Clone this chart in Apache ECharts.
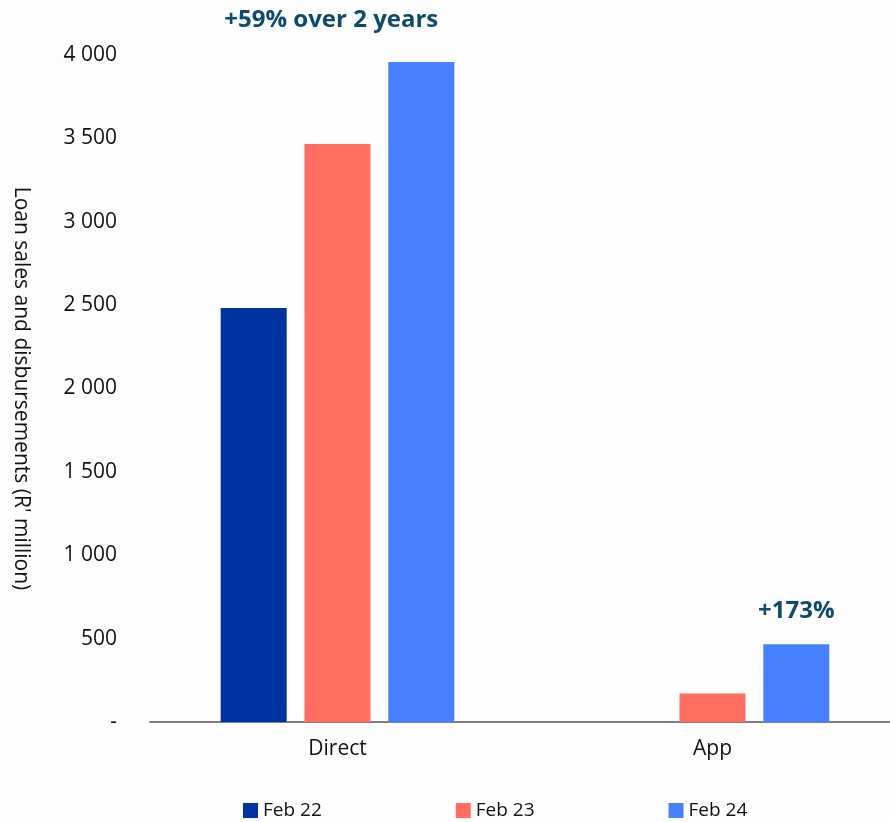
<!DOCTYPE html>
<html>
<head>
<meta charset="utf-8">
<script src="https://cdn.jsdelivr.net/npm/echarts@6/dist/echarts.min.js"></script>
<style>
  html, body { margin: 0; padding: 0; background: #fdfdfd; }
  #chart { width: 890px; height: 822px; }
</style>
</head>
<body>
<div id="chart"></div>
<script>
// Loan sales and disbursements by channel, R' million
const categories = ['Direct', 'App'];
const seriesNames = ['Feb 22', 'Feb 23', 'Feb 24'];
const feb22 = [2483, null];
const feb23 = [3466, 171];
const feb24 = [3958, 467];
const growthLabels = ['+59% over 2 years', '+173%'];
const yTicks = { min: 0, max: 4000, step: 500 };

const colors = ['#00339f', '#ff6e61', '#4680ff'];
const font = 'Open Sans';
const labelColor = '#0d4b6c';

function fmtTick(v) {
  if (v === 0) return '-';
  return String(v).replace(/\B(?=(\d{3})+(?!\d))/g, '\u00a0');
}

const chart = echarts.init(document.getElementById('chart'));

const baseBar = {
  type: 'bar',
  barWidth: 66,
  barGap: '27%',
  animation: false
};

chart.setOption({
  backgroundColor: '#fdfdfd',
  textStyle: { fontFamily: font },
  grid: { left: 150, top: 55, width: 750, bottom: 100, outerBoundsMode: 'none', containLabel: false },
  legend: {
    bottom: -3,
    left: 238,
    itemWidth: 15,
    itemHeight: 15,
    itemGap: 134,
    icon: 'rect',
    textStyle: { fontFamily: font, fontSize: 19, color: '#111' },
    data: seriesNames
  },
  xAxis: {
    type: 'category',
    data: categories,
    axisLine: { lineStyle: { color: '#555', width: 1.5 } },
    axisTick: { show: false },
    axisLabel: { fontFamily: font, fontSize: 21, color: '#111', margin: 17 }
  },
  yAxis: {
    type: 'value',
    min: yTicks.min,
    max: yTicks.max,
    interval: yTicks.step,
    name: "Loan sales and disbursements (R' million)",
    nameLocation: 'middle',
    nameRotate: -90,
    nameGap: 119,
    nameTextStyle: { fontFamily: font, fontSize: 21, color: '#111' },
    axisLine: { show: false },
    axisTick: { show: false },
    splitLine: { show: false },
    axisLabel: {
      fontFamily: font, fontSize: 21, color: '#111', margin: 33,
      formatter: fmtTick
    }
  },
  series: [
    Object.assign({}, baseBar, {
      name: seriesNames[0], data: feb22,
      itemStyle: { color: colors[0] }
    }),
    Object.assign({}, baseBar, {
      name: seriesNames[1], data: feb23,
      itemStyle: { color: colors[1] }
    }),
    Object.assign({}, baseBar, {
      name: seriesNames[2],
      itemStyle: { color: colors[2] },
      data: [
        {
          value: feb24[0],
          label: {
            show: true, position: 'top', offset: [-90, -25],
            formatter: growthLabels[0],
            fontFamily: font, fontSize: 24, fontWeight: 'bold', color: labelColor
          }
        },
        {
          value: feb24[1],
          label: {
            show: true, position: 'top', distance: 21,
            formatter: growthLabels[1],
            fontFamily: font, fontSize: 24, fontWeight: 'bold', color: labelColor
          }
        }
      ]
    })
  ]
});
</script>
</body>
</html>
